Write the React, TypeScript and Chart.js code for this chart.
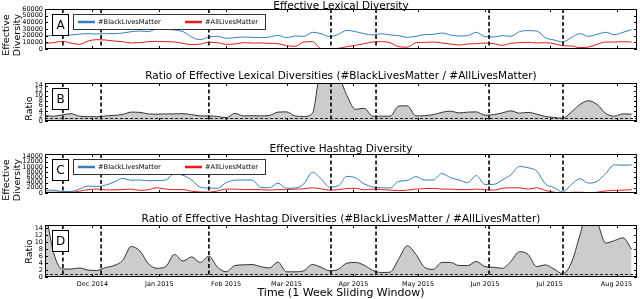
import React, { useEffect, useRef } from "react";
import { Chart, registerables } from "chart.js";
Chart.register(...registerables);

const FONT = '"DejaVu Sans", sans-serif';
Chart.defaults.font.family = FONT;

// Day index 0 = 9 Nov 2014 (1-week sliding window samples)
const DAYS = [0, 4, 8, 12, 16, 20, 24, 28, 32, 36, 40, 44, 48, 52, 56, 60, 64, 68, 72, 76, 80, 84, 88, 92, 96, 100, 104, 108, 112, 116, 120, 124, 128, 132, 136, 140, 144, 148, 152, 156, 160, 164, 168, 172, 176, 180, 184, 188, 192, 196, 200, 204, 208, 212, 216, 220, 224, 228, 232, 236, 240, 244, 248, 252, 256, 260, 264, 268, 272];
const X_MAX = 274.5;
const MONTH_DAYS = [22, 53, 84, 112, 143, 173, 204, 234, 265];
const MONTH_LABELS = ["Dec 2014", "Jan 2015", "Feb 2015", "Mar 2015", "Apr 2015", "May 2015", "Jun 2015", "Jul 2015", "Aug 2015"];
const EVENT_DAYS = [8.3, 26, 76, 132.6, 153.5, 205.9, 240.2];

const LEX_TICKS = [0, 10000, 20000, 30000, 40000, 50000, 60000];
const HASH_TICKS = [0, 2000, 4000, 6000, 8000, 10000, 12000, 14000];
const RATIO_TICKS = [0, 2, 4, 6, 8, 10, 12, 14];

const SERIES_NAMES = ["#BlackLivesMatter", "#AllLivesMatter"];

const LEX_BLM = [20000, 20000, 20500, 21000, 22500, 23000, 22500, 23000, 23000, 24000,
  26000, 27000, 26000, 30500, 30000, 28500, 26000, 18000, 14000, 18000,
  19000, 16000, 17000, 18000, 17500, 17000, 18000, 20500, 17000, 19500,
  19000, 25000, 23000, 18500, 22000, 28000, 26000, 23000, 21000, 23000,
  21000, 20000, 17500, 19000, 21500, 22000, 24000, 21000, 19500, 20000,
  25000, 18500, 18000, 20000, 19000, 26000, 27500, 27000, 17000, 13500,
  10500, 17000, 23000, 19000, 22000, 25000, 21500, 25000, 29000];
const LEX_ALM = [8500, 9500, 11500, 9000, 7000, 12000, 14000, 13500, 12000, 11000,
  9000, 9500, 11000, 11500, 11000, 10500, 8500, 6500, 7500, 10000,
  9500, 7000, 7500, 9500, 9000, 9000, 8500, 8000, 5000, 4000,
  10500, 11000, 500, 0, 1000, 3500, 5500, 8000, 10500, 11000,
  9500, 3500, 2700, 9500, 10000, 10500, 9000, 7500, 6000, 7500,
  8000, 9000, 8000, 5500, 8500, 9500, 10000, 9000, 9500, 8000,
  5000, 4500, 2000, 3000, 7000, 10500, 10500, 11000, 10500];
const LEX_RATIO = [2.1, 1.9, 2.4, 2.9, 1.9, 1.7, 1.7, 2.0, 2.2, 2.6,
  3.5, 3.4, 2.8, 2.7, 2.8, 2.8, 2.9, 2.5, 2.0, 2.0,
  1.8, 1.3, 3.0, 2.0, 2.1, 2.0, 2.2, 3.5, 3.6, 2.0,
  1.8, 3.0, 20, 20, 18, 10, 4.6, 5.0, 1.9, 1.9,
  1.9, 5.9, 6.0, 2.0, 2.1, 2.5, 3.4, 3.9, 3.2, 3.5,
  3.6, 2.3, 2.5, 3.2, 4.0, 3.1, 3.4, 2.7, 1.8, 1.4,
  1.1, 3.5, 6.5, 8.0, 6.5, 3.0, 1.9, 2.8, 2.7];
const HASH_BLM = [1100, 1050, 600, 600, 1500, 2700, 2500, 3000, 4200, 5600,
  4900, 5000, 4700, 4800, 5000, 7400, 6800, 5000, 2200, 1900,
  1800, 4000, 4900, 5000, 5000, 2200, 2000, 3800, 1800, 1900,
  3500, 8000, 5500, 2300, 2800, 6400, 5800, 3500, 2300, 2000,
  1900, 4500, 4800, 6300, 5000, 5000, 7500, 5900, 5000, 4000,
  6700, 3300, 3300, 5000, 7000, 10200, 9700, 8500, 3500, 2100,
  400, 3200, 5500, 3800, 4500, 7500, 10800, 10700, 10800];
const HASH_ALM = [300, 300, 350, 300, 700, 1300, 1500, 1200, 1200, 1300,
  1500, 1000, 1300, 2000, 1500, 1300, 1300, 700, 400, 300,
  800, 1500, 1500, 1300, 1300, 1300, 1100, 1300, 1300, 1500,
  1600, 2000, 1600, 1100, 1300, 1700, 1800, 1200, 1500, 1300,
  1100, 900, 1100, 1500, 1700, 1800, 1500, 1500, 1300, 1300,
  1500, 1300, 1100, 1800, 2000, 2000, 1500, 2000, 1000, 300,
  100, 250, 300, 150, 300, 800, 1000, 1100, 1300];
const HASH_RATIO = [20, 7, 2.3, 2.3, 2.6, 2.0, 1.9, 2.7, 3.3, 4.8,
  8.8, 7.5, 3.8, 2.5, 3.0, 6.5, 4.6, 5.8, 4.2, 6.0,
  2.8, 1.5, 3.3, 3.5, 3.6, 3.0, 2.6, 4.3, 1.5, 1.5,
  1.8, 3.6, 2.8, 1.8, 2.2, 4.0, 4.2, 3.4, 1.9, 1.3,
  1.4, 5.2, 9.0, 6.5, 2.8, 2.2, 4.2, 4.2, 3.3, 3.3,
  4.5, 3.0, 2.8, 2.5, 4.5, 7.3, 6.5, 3.0, 3.5, 2.3,
  1.0, 4.0, 12, 20, 16, 9.8, 10.5, 11.3, 8];

const BLUE = "#377eb8";
const RED = "#e41a1c";
const PAD = 8;
const LEFT = 45;

const panelPlugin = {
  id: "panelDeco",
  afterDatasetsDraw(chart: any, _args: any, opts: any) {
    const { ctx, chartArea: a } = chart;
    const xs = chart.scales.x;
    const ys = chart.scales.y;
    ctx.save();
    ctx.beginPath();
    ctx.rect(a.left, a.top, a.right - a.left, a.bottom - a.top);
    ctx.clip();
    if (opts.refLine) {
      const py = Math.round(ys.getPixelForValue(1)) + 0.5;
      ctx.setLineDash([3, 2]);
      ctx.lineWidth = 1;
      ctx.strokeStyle = "#222";
      ctx.beginPath();
      ctx.moveTo(a.left, py);
      ctx.lineTo(a.right, py);
      ctx.stroke();
    }
    ctx.setLineDash([4, 2.5]);
    ctx.lineWidth = 1.6;
    ctx.strokeStyle = "#000";
    for (const d of EVENT_DAYS) {
      const px = xs.getPixelForValue(d);
      ctx.beginPath();
      ctx.moveTo(px, a.top);
      ctx.lineTo(px, a.bottom);
      ctx.stroke();
    }
    ctx.restore();

    ctx.save();
    ctx.setLineDash([]);
    ctx.strokeStyle = "#000";
    ctx.lineWidth = 1;
    ctx.beginPath();
    for (const t of ys.ticks) {
      const py = Math.round(ys.getPixelForValue(t.value)) + 0.5;
      ctx.moveTo(a.left, py);
      ctx.lineTo(a.left + 3, py);
      ctx.moveTo(a.right - 3, py);
      ctx.lineTo(a.right, py);
    }
    for (const d of MONTH_DAYS) {
      const px = Math.round(xs.getPixelForValue(d)) + 0.5;
      ctx.moveTo(px, a.top);
      ctx.lineTo(px, a.top + 3);
      ctx.moveTo(px, a.bottom);
      ctx.lineTo(px, a.bottom - 3);
    }
    ctx.stroke();
    ctx.strokeRect(a.left + 0.5, a.top + 0.5, a.right - a.left - 1, a.bottom - a.top - 1);

    if (opts.legend) {
      const ds = chart.data.datasets;
      const lx = a.left + 28, ly = Math.round(a.top + 5), lw = 192, lh = 15;
      ctx.fillStyle = "#fff";
      ctx.fillRect(lx, ly, lw, lh);
      ctx.strokeStyle = "#333";
      ctx.lineWidth = 1;
      ctx.strokeRect(lx + 0.5, ly + 0.5, lw, lh);
      const cy = ly + lh / 2 + 0.5;
      ctx.font = `6.7px ${FONT}`;
      ctx.textBaseline = "middle";
      ctx.textAlign = "left";
      const offs = [5, 112];
      ds.forEach((d: any, i: number) => {
        ctx.strokeStyle = d.borderColor;
        ctx.lineWidth = 2.5;
        ctx.beginPath();
        ctx.moveTo(lx + offs[i], cy);
        ctx.lineTo(lx + offs[i] + 17, cy);
        ctx.stroke();
        ctx.fillStyle = "#000";
        ctx.fillText(d.label, lx + offs[i] + 20, cy);
      });
    }
    if (opts.letter) {
      const bx = a.left + 7, by = Math.round(a.top + 5), bw = 16, bh = 21;
      ctx.fillStyle = "#fff";
      ctx.fillRect(bx, by, bw, bh);
      ctx.strokeStyle = "#000";
      ctx.lineWidth = 1;
      ctx.strokeRect(bx + 0.5, by + 0.5, bw, bh);
      ctx.fillStyle = "#000";
      ctx.font = `12px ${FONT}`;
      ctx.textAlign = "center";
      ctx.textBaseline = "middle";
      ctx.fillText(opts.letter, bx + bw / 2 + 0.5, by + bh / 2 + 1);
    }
    ctx.restore();
  },
};

type Series = { label: string; values: number[]; color: string; fill?: string };
type PanelDef = {
  top: number;
  plotH: number;
  yMax: number;
  yTicks: number[];
  series: Series[];
  letter: string;
  legend: boolean;
  refLine: boolean;
  showX: boolean;
};

function buildConfig(p: PanelDef): any {
  const datasets = p.series.map((s) => ({
    label: s.label,
    data: DAYS.map((d, i) => ({ x: d, y: s.values[i] })),
    borderColor: s.color,
    borderWidth: 1,
    pointRadius: 0,
    fill: s.fill ? "origin" : false,
    backgroundColor: s.fill || "transparent",
    cubicInterpolationMode: "monotone",
  }));
  return {
    type: "line",
    data: { datasets },
    plugins: [panelPlugin],
    options: {
      responsive: false,
      animation: false,
      devicePixelRatio: 1,
      events: [],
      layout: { padding: { left: 0, right: 3, top: PAD, bottom: p.showX ? 0 : PAD } },
      plugins: {
        legend: { display: false },
        tooltip: { enabled: false },
        panelDeco: { letter: p.letter, legend: p.legend, refLine: p.refLine },
      },
      scales: {
        x: {
          type: "linear",
          min: 0,
          max: X_MAX,
          display: p.showX,
          grid: { display: false, drawTicks: false },
          border: { display: false },
          ticks: {
            font: { family: FONT, size: 6.5 },
            color: "#000",
            padding: 3,
            maxRotation: 0,
            autoSkip: false,
            callback: (v: number) => {
              const i = MONTH_DAYS.indexOf(v);
              return i >= 0 ? MONTH_LABELS[i] : "";
            },
          },
          afterBuildTicks: (s: any) => {
            s.ticks = MONTH_DAYS.map((v) => ({ value: v }));
          },
          afterFit: (s: any) => {
            s.height = 12;
          },
        },
        y: {
          type: "linear",
          min: 0,
          max: p.yMax,
          grid: { display: false, drawTicks: false },
          border: { display: false },
          ticks: {
            font: { family: FONT, size: 6.5 },
            color: "#000",
            padding: 2,
            autoSkip: false,
            callback: (v: number) => String(v),
          },
          afterBuildTicks: (s: any) => {
            s.ticks = p.yTicks.map((v) => ({ value: v }));
          },
          afterFit: (s: any) => {
            s.width = LEFT;
          },
        },
      },
    },
  };
}

function Panel({ def }: { def: PanelDef }) {
  const ref = useRef<HTMLCanvasElement>(null);
  const height = PAD + def.plotH + (def.showX ? 12 : PAD);
  useEffect(() => {
    const chart = new Chart(ref.current as HTMLCanvasElement, buildConfig(def));
    return () => chart.destroy();
  }, []);
  return (
    <canvas
      ref={ref}
      width={640}
      height={height}
      style={{ position: "absolute", left: 0, top: def.top - PAD, width: 640, height }}
    />
  );
}

const PANELS: PanelDef[] = [
  {
    top: 9, plotH: 52, yMax: 60000, yTicks: LEX_TICKS, letter: "A", legend: true, refLine: false, showX: false,
    series: [
      { label: SERIES_NAMES[0], values: LEX_BLM, color: BLUE },
      { label: SERIES_NAMES[1], values: LEX_ALM, color: RED },
    ],
  },
  {
    top: 83, plotH: 50, yMax: 15, yTicks: RATIO_TICKS, letter: "B", legend: false, refLine: true, showX: false,
    series: [{ label: "ratio", values: LEX_RATIO, color: "#333", fill: "#cccccc" }],
  },
  {
    top: 154, plotH: 51, yMax: 15000, yTicks: HASH_TICKS, letter: "C", legend: true, refLine: false, showX: false,
    series: [
      { label: SERIES_NAMES[0], values: HASH_BLM, color: BLUE },
      { label: SERIES_NAMES[1], values: HASH_ALM, color: RED },
    ],
  },
  {
    top: 225, plotH: 52, yMax: 15, yTicks: RATIO_TICKS, letter: "D", legend: false, refLine: true, showX: true,
    series: [{ label: "ratio", values: HASH_RATIO, color: "#333", fill: "#cccccc" }],
  },
];

const TITLES = [
  { text: "Effective Lexical Diversity", cy: 5 },
  { text: "Ratio of Effective Lexical Diversities (#BlackLivesMatter / #AllLivesMatter)", cy: 75 },
  { text: "Effective Hashtag Diversity", cy: 148 },
  { text: "Ratio of Effective Hashtag Diversities (#BlackLivesMatter / #AllLivesMatter)", cy: 218 },
];

function YTitle({ lines, cx, cy }: { lines: string[]; cx: number; cy: number }) {
  const w = 70;
  const h = lines.length * 11;
  return (
    <div
      style={{
        position: "absolute",
        left: cx - w / 2,
        top: cy - h / 2,
        width: w,
        height: h,
        transform: "rotate(-90deg)",
        textAlign: "center",
        fontSize: 9.5,
        lineHeight: "11px",
        whiteSpace: "nowrap",
      }}
    >
      {lines.map((l, i) => (
        <div key={i}>{l}</div>
      ))}
    </div>
  );
}

export default function App() {
  return (
    <div
      style={{
        position: "absolute",
        left: 0,
        top: 0,
        width: 640,
        height: 299,
        background: "#fff",
        overflow: "hidden",
        fontFamily: FONT,
        color: "#000",
      }}
    >
      {PANELS.map((p, i) => (
        <Panel key={i} def={p} />
      ))}
      {TITLES.map((t, i) => (
        <div
          key={i}
          style={{
            position: "absolute",
            left: LEFT,
            width: 592,
            top: t.cy,
            transform: "translateY(-50%)",
            textAlign: "center",
            fontSize: 10.5,
            lineHeight: 1,
            whiteSpace: "nowrap",
          }}
        >
          {t.text}
        </div>
      ))}
      <YTitle lines={["Effective", "Diversity"]} cx={10.5} cy={35} />
      <YTitle lines={["Ratio"]} cx={28} cy={108} />
      <YTitle lines={["Effective", "Diversity"]} cx={10.5} cy={180} />
      <YTitle lines={["Ratio"]} cx={28} cy={251} />
      <div
        style={{
          position: "absolute",
          left: LEFT,
          width: 592,
          top: 292,
          transform: "translateY(-50%)",
          textAlign: "center",
          fontSize: 11,
          lineHeight: 1,
          whiteSpace: "nowrap",
        }}
      >
        Time (1 Week Sliding Window)
      </div>
    </div>
  );
}
